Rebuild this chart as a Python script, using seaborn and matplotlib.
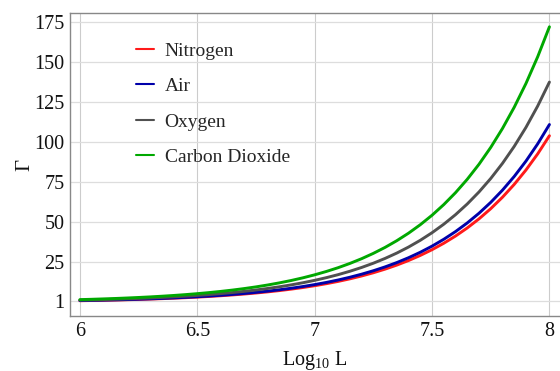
import numpy as np
import pandas as pd
import matplotlib
matplotlib.use("Agg")
import matplotlib.pyplot as plt
import seaborn as sns

# x positions (Log10 L)
log_l = [6.00, 6.05, 6.10, 6.15, 6.20, 6.25, 6.30, 6.35, 6.40, 6.45,
         6.50, 6.55, 6.60, 6.65, 6.70, 6.75, 6.80, 6.85, 6.90, 6.95,
         7.00, 7.05, 7.10, 7.15, 7.20, 7.25, 7.30, 7.35, 7.40, 7.45,
         7.50, 7.55, 7.60, 7.65, 7.70, 7.75, 7.80, 7.85, 7.90, 7.95, 8.00]

nitrogen = [1.04, 1.17, 1.31, 1.47, 1.65, 1.85, 2.08, 2.33, 2.61, 2.93,
            3.29, 3.69, 4.14, 4.65, 5.21, 5.85, 6.56, 7.36, 8.26, 9.27,
            10.4, 11.67, 13.09, 14.69, 16.48, 18.49, 20.75, 23.28, 26.12, 29.31,
            32.89, 36.90, 41.40, 46.45, 52.12, 58.48, 65.62, 73.63, 82.61, 92.69, 104.0]

air = [1.11, 1.25, 1.40, 1.57, 1.76, 1.97, 2.21, 2.48, 2.79, 3.13,
       3.51, 3.94, 4.42, 4.96, 5.56, 6.24, 7.00, 7.86, 8.82, 9.89,
       11.1, 12.45, 13.97, 15.68, 17.59, 19.74, 22.15, 24.85, 27.88, 31.28,
       35.10, 39.38, 44.19, 49.58, 55.63, 62.42, 70.04, 78.58, 88.17, 98.93, 111.0]

oxygen = [1.38, 1.54, 1.73, 1.94, 2.18, 2.45, 2.74, 3.08, 3.45, 3.88,
          4.35, 4.88, 5.47, 6.14, 6.89, 7.73, 8.68, 9.73, 10.92, 12.25,
          13.75, 15.43, 17.31, 19.42, 21.79, 24.45, 27.44, 30.78, 34.54, 38.75,
          43.48, 48.79, 54.74, 61.42, 68.91, 77.32, 86.76, 97.34, 109.22, 122.55, 137.5]

carbon_dioxide = [1.72, 1.93, 2.17, 2.43, 2.73, 3.06, 3.43, 3.85, 4.32, 4.85,
                  5.44, 6.10, 6.85, 7.68, 8.62, 9.67, 10.85, 12.18, 13.66, 15.33,
                  17.2, 19.30, 21.65, 24.30, 27.26, 30.59, 34.32, 38.51, 43.20, 48.48,
                  54.39, 61.03, 68.47, 76.83, 86.20, 96.72, 108.53, 121.77, 136.62, 153.30, 172.0]

series_names = ["Nitrogen", "Air", "Oxygen", "Carbon Dioxide"]
series_values = [nitrogen, air, oxygen, carbon_dioxide]
series_colors = ["#ff1a1a", "#0000aa", "#505050", "#00a800"]

x_ticks = [6, 6.5, 7, 7.5, 8]
x_tick_labels = ["6", "6.5", "7", "7.5", "8"]
y_ticks = [1, 25, 50, 75, 100, 125, 150, 175]
y_tick_labels = ["1", "25", "50", "75", "100", "125", "150", "175"]

frames = []
for name, vals in zip(series_names, series_values):
    frames.append(pd.DataFrame({"x": log_l, "y": vals, "gas": name}))
df = pd.concat(frames, ignore_index=True)

sns.set_style("white")
plt.rcParams["font.family"] = ["Liberation Serif", "DejaVu Serif"]
plt.rcParams["mathtext.fontset"] = "custom"
plt.rcParams["mathtext.rm"] = "Liberation Serif"
plt.rcParams["mathtext.it"] = "Liberation Serif:italic"

fig = plt.figure(figsize=(5.6, 3.71), dpi=100)
ax = fig.add_axes([70 / 560, 1 - 316 / 371, 1.0 - 70 / 560, (316 - 13) / 371])

sns.lineplot(data=df, x="x", y="y", hue="gas", hue_order=series_names,
             palette=series_colors, linewidth=2.1, ax=ax, legend=True)

ax.set_xlim(5.958, 8.045)
ax.set_ylim(-8.5, 180.6)
ax.set_xticks(x_ticks)
ax.set_xticklabels(x_tick_labels)
ax.set_yticks(y_ticks)
ax.set_yticklabels(y_tick_labels)

for v in x_ticks:
    ax.axvline(v, color="#cccccc", lw=0.8, zorder=0)
for v in y_ticks:
    ax.axhline(v, color="#dddddd", lw=0.9, zorder=0)

for s in ["left", "bottom", "top"]:
    ax.spines[s].set_color("#888888")
    ax.spines[s].set_linewidth(1.0)
ax.spines["right"].set_visible(False)

ax.tick_params(axis="both", direction="in", length=3, width=0.8, color="#888888",
               labelsize=14.5, labelcolor="#111111")
ax.tick_params(axis="y", pad=4)
ax.tick_params(axis="x", pad=4)

ax.set_xlabel("Log$_{10}$ L", fontsize=14.5, color="#111111", labelpad=6)
ax.set_ylabel("Γ", fontsize=15, color="#111111", labelpad=0)

leg = ax.legend(loc="upper left", bbox_to_anchor=(0.098, 0.962), frameon=False,
                fontsize=14, handlelength=0.95, handletextpad=0.55,
                labelspacing=0.92)
for line in leg.get_lines():
    line.set_linewidth(1.5)

fig.savefig("out.png", dpi=100)
